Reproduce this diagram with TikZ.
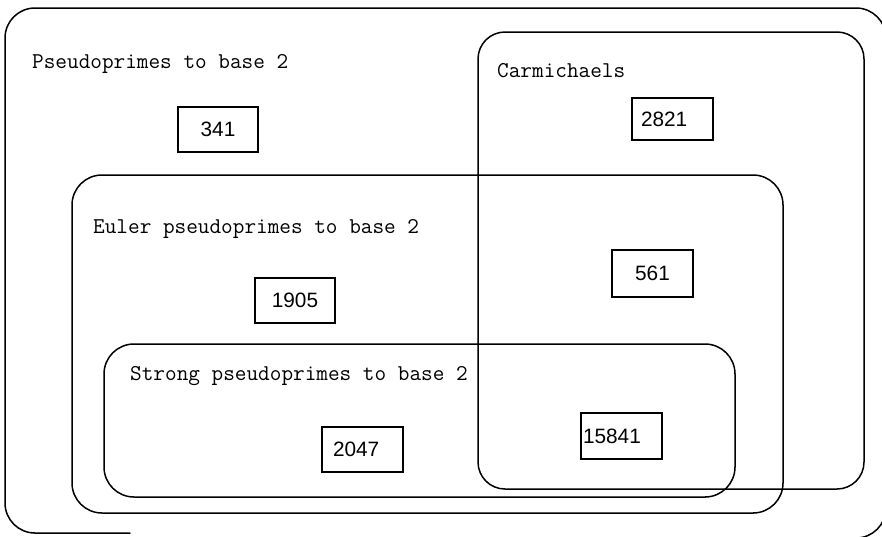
\documentclass[tikz,border=0pt]{standalone}
\usepackage{fontspec}
\newfontfamily\numfont{Liberation Sans}
\begin{document}
\begin{tikzpicture}[x=1pt,y=-1pt,
  setline/.style={line width=1.5pt, line join=round, line cap=round},
  setlabel/.style={anchor=base west, inner sep=0pt, font=\ttfamily\fontsize{22.6}{26}\selectfont},
  numbox/.style={draw, line width=1.2pt, inner sep=0pt, font=\numfont\fontsize{20.8}{24}\selectfont}]
\path[use as bounding box] (0,0) rectangle (882,536);
% outer set (pseudoprimes to base 2)
\draw[setline, rounded corners=30pt] (130,533) -- (5,533) -- (5,8) -- (886,8) -- (886,538) -- (820,538);
% Carmichaels
\draw[setline, rounded corners=27pt] (478,32) rectangle (864,489);
% Euler pseudoprimes
\draw[setline, rounded corners=30pt] (72,175) rectangle (783,513);
% Strong pseudoprimes
\draw[setline, rounded corners=30pt] (104,344) rectangle (735,497);
% labels
\node[setlabel] (lpsp) at (32,68) {Pseudoprimes to base 2};
\node[setlabel] (lcar) at (497,77) {Carmichaels};
\node[setlabel] (leul) at (93,233) {Euler pseudoprimes to base 2};
\node[setlabel] (lstr) at (130,380) {Strong pseudoprimes to base 2};
% numbers
\node[numbox, minimum width=80pt, minimum height=45pt] (n341) at (218,129.5) {341};
\node[numbox, minimum height=42pt, text width=63pt, align=left, inner xsep=9pt] (n2821) at (672.5,119) {2821};
\node[numbox, minimum width=81pt, minimum height=47pt] (n561) at (652.5,273.5) {561};
\node[numbox, minimum width=80pt, minimum height=45pt] (n1905) at (295,300.5) {1905};
\node[numbox, minimum height=45pt, text width=59pt, align=left, inner xsep=11pt] (n2047) at (362.5,449.5) {2047};
\node[numbox, minimum height=46pt, text width=77pt, align=left, inner xsep=2pt] (n15841) at (621.5,436) {15841};
\end{tikzpicture}
\end{document}
